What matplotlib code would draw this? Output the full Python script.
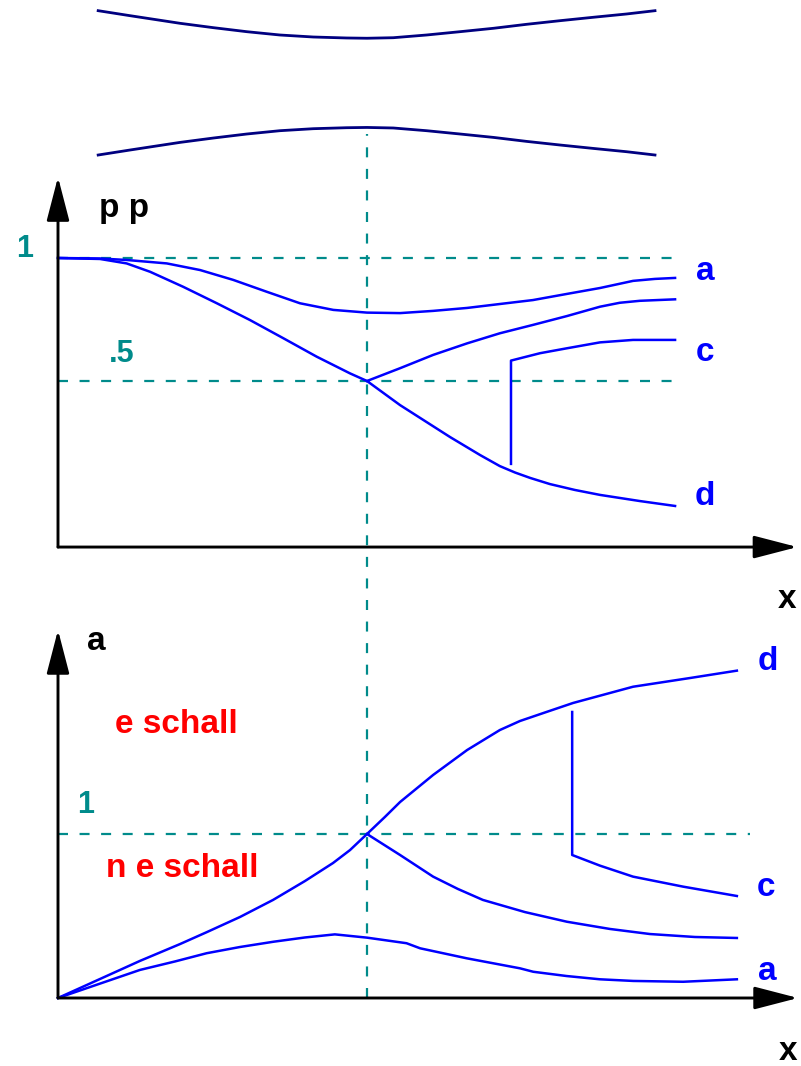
import matplotlib.pyplot as plt

# Lavaldüse: Druckverlauf und Machzahl längs der Düse

W, H = 801, 1066
blau = '#0000ff'
tuerkis = '#008b8b'
marine = '#000080'
plt.rcParams['font.family'] = ['Liberation Sans', 'DejaVu Sans']

# Düsenkontur (Halbhöhe, Engstelle = 1)
x_duese = [0.130, 0.233, 0.395, 0.503, 0.611, 0.718, 0.826, 0.934, 1.0, 1.085,
           1.193, 1.301, 1.409, 1.517, 1.625, 1.732, 1.840, 1.932]
r_duese = [1.618, 1.506, 1.335, 1.237, 1.147, 1.073, 1.028, 1.006, 1.0, 1.012,
           1.073, 1.147, 1.223, 1.313, 1.394, 1.470, 1.544, 1.618]

# Druckverhältnis p/p0
x_p_a = [0, 0.136, 0.222, 0.352, 0.460, 0.567, 0.675, 0.783, 0.891, 1.0, 1.107,
         1.214, 1.324, 1.430, 1.537, 1.647, 1.754, 1.861, 1.932, 1.997]
p_a = [1.0, 0.998, 0.992, 0.978, 0.951, 0.911, 0.863, 0.816, 0.789, 0.778, 0.776,
       0.785, 0.797, 0.813, 0.829, 0.854, 0.878, 0.907, 0.915, 0.919]
x_p_b = [1.0, 1.107, 1.214, 1.324, 1.430, 1.537, 1.647, 1.754, 1.818, 1.883, 1.997]
p_b = [0.5, 0.552, 0.606, 0.653, 0.694, 0.728, 0.764, 0.802, 0.818, 0.826, 0.832]
x_p_c = [1.466, 1.466, 1.560, 1.647, 1.754, 1.861, 1.997]
p_c = [0.163, 0.583, 0.613, 0.633, 0.657, 0.667, 0.667]
x_p_d = [0, 0.136, 0.222, 0.298, 0.405, 0.514, 0.621, 0.729, 0.837, 0.945, 1.0,
         1.107, 1.269, 1.366, 1.430, 1.479, 1.528, 1.592, 1.673, 1.754, 1.883, 1.997]
p_d = [1.0, 0.996, 0.978, 0.944, 0.883, 0.816, 0.748, 0.674, 0.599, 0.531, 0.5,
       0.402, 0.272, 0.199, 0.154, 0.128, 0.106, 0.081, 0.057, 0.037, 0.012, -0.008]

# Machzahl
x_m_a = [0, 0.265, 0.379, 0.481, 0.589, 0.697, 0.799, 0.896, 1.0, 1.128, 1.172, 1.323,
         1.495, 1.538, 1.646, 1.754, 1.862, 2.023, 2.197]
m_a = [0, 0.171, 0.223, 0.273, 0.311, 0.343, 0.369, 0.388, 0.368, 0.334, 0.303, 0.242,
       0.181, 0.160, 0.134, 0.114, 0.104, 0.099, 0.114]
x_m_b = [1.0, 1.107, 1.214, 1.294, 1.375, 1.511, 1.647, 1.786, 1.916, 2.061, 2.197]
m_b = [1.0, 0.872, 0.740, 0.665, 0.598, 0.524, 0.465, 0.421, 0.390, 0.372, 0.366]
x_m_c = [1.664, 1.664, 1.754, 1.861, 2.023, 2.197]
m_c = [1.744, 0.872, 0.807, 0.740, 0.679, 0.622]
x_m_d = [0, 0.136, 0.265, 0.395, 0.482, 0.589, 0.696, 0.799, 0.890, 0.945, 1.0, 1.058,
         1.107, 1.214, 1.324, 1.430, 1.495, 1.576, 1.667, 1.861, 2.045, 2.197]
m_d = [0, 0.116, 0.226, 0.329, 0.402, 0.494, 0.598, 0.713, 0.823, 0.902, 1.0, 1.104,
       1.195, 1.360, 1.512, 1.634, 1.689, 1.741, 1.799, 1.898, 1.951, 1.996]

fig = plt.figure(figsize=(W / 100, H / 100), dpi=100)


def panel(x0, xs, y0, ys):
    # x0/y0: Pixel des Nullpunkts, xs/ys: Pixel pro Einheit
    ax = fig.add_axes([0, 0, 1, 1])
    ax.set_xlim(-x0 / xs, (W - x0) / xs)
    ax.set_ylim((y0 - H) / ys, y0 / ys)
    ax.axis('off')
    ax.patch.set_alpha(0)
    return ax


def pfeil(ax, start, ende):
    ax.annotate('', xy=ende, xytext=start,
                arrowprops=dict(arrowstyle='-|>,head_length=2.7,head_width=0.7',
                                mutation_scale=10, lw=2.1, color='black',
                                shrinkA=0, shrinkB=0))


gestrichelt = dict(color=tuerkis, lw=1.6, ls=(0, (4.5, 5.2)))
kurve = dict(color=blau, lw=1.8, solid_joinstyle='round')
schrift = dict(fontsize=24, fontweight='bold', ha='center', va='baseline')
zahl = dict(schrift, fontsize=22, color=tuerkis)

# Düse
ax_d = panel(58, 309, 82.85, 44.6)
ax_d.plot(x_duese, r_duese, color=marine, lw=2.0)
ax_d.plot(x_duese, [-r for r in r_duese], color=marine, lw=2.0)

# oberes Diagramm: p/p0
ax_p = panel(58, 309, 504, 246)
ax_p.plot([0, 2.0], [1, 1], **gestrichelt)
ax_p.plot([0, 2.0], [0.5, 0.5], **gestrichelt)
pfeil(ax_p, (0, -0.175), (0, 1.329))
pfeil(ax_p, (0, -0.175), (2.393, -0.175))
ax_p.plot(x_p_a, p_a, **kurve)
ax_p.plot(x_p_b, p_b, **kurve)
ax_p.plot(x_p_c, p_c, **kurve)
ax_p.plot(x_p_d, p_d, **kurve)
ax_p.text(0.212, 1.167, 'p p', color='black', **schrift)
ax_p.text(-0.107, 1.004, '1', **zahl)
ax_p.text(0.207, 0.577, '.5', **zahl)
ax_p.text(2.094, 0.911, 'a', color=blau, **schrift)
ax_p.text(2.094, 0.581, 'c', color=blau, **schrift)
ax_p.text(2.094, -0.004, 'd', color=blau, **schrift)
ax_p.text(2.361, -0.423, 'x', color='black', **schrift)

# unteres Diagramm: Machzahl
ax_m = panel(58, 309, 998, 164)
ax_m.plot([1, 1], [0, 5.27], **gestrichelt)
ax_m.plot([0, 2.24], [1, 1], **gestrichelt)
pfeil(ax_m, (0, 0), (0, 2.244))
pfeil(ax_m, (0, 0), (2.395, 0))
ax_m.plot(x_m_a, m_a, **kurve)
ax_m.plot(x_m_b, m_b, **kurve)
ax_m.plot(x_m_c, m_c, **kurve)
ax_m.plot(x_m_d, m_d, **kurve)
ax_m.text(0.125, 2.122, 'a', color='black', **schrift)
ax_m.text(0.384, 1.616, 'e schall', color='red', **schrift)
ax_m.text(0.089, 1.128, '1', **zahl)
ax_m.text(0.403, 0.738, 'n e schall', color='red', **schrift)
ax_m.text(2.296, 2.0, 'd', color=blau, **schrift)
ax_m.text(2.291, 0.622, 'c', color=blau, **schrift)
ax_m.text(2.294, 0.110, 'a', color=blau, **schrift)
ax_m.text(2.362, -0.378, 'x', color='black', **schrift)

fig.savefig('out.png', dpi=100)
